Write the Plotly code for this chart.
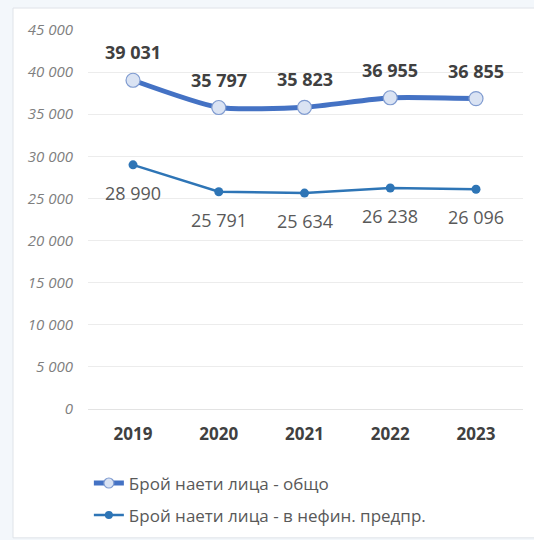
import plotly.graph_objects as go

# Data
years = ["2019", "2020", "2021", "2022", "2023"]
total_employed = [39031, 35797, 35823, 36955, 36855]
nonfin_employed = [28990, 25791, 25634, 26238, 26096]
y_ticks = [0, 5000, 10000, 15000, 20000, 25000, 30000, 35000, 40000, 45000]

name_total = "Брой наети лица - общо"
name_nonfin = "Брой наети лица - в нефин. предпр."

FONT = "Open Sans"

# category positions on a linear axis
xpos = list(range(len(years)))

TOTAL_LINE = dict(color="#4472c4", width=5, shape="spline", smoothing=0.6)
TOTAL_MARKER_FILL = "#dae3f3"
TOTAL_MARKER_EDGE = dict(color="#7f9bd0", width=1.2)
NONFIN_COLOR = "#2e75b6"

fig = go.Figure()

fig.add_trace(go.Scatter(
    x=xpos, y=total_employed, name=name_total, showlegend=False,
    mode="lines+markers", line=TOTAL_LINE,
    marker=dict(size=14, color=TOTAL_MARKER_FILL, line=TOTAL_MARKER_EDGE),
    hoverinfo="skip",
))

fig.add_trace(go.Scatter(
    x=xpos, y=nonfin_employed, name=name_nonfin, showlegend=False,
    mode="lines+markers",
    line=dict(color=NONFIN_COLOR, width=2.5),
    marker=dict(size=9, color=NONFIN_COLOR),
    hoverinfo="skip",
))

# legend entries with smaller symbols
fig.add_trace(go.Scatter(
    x=[None], y=[None], name=name_total, legendgroup="total",
    mode="lines+markers", line=dict(color="#4472c4", width=5),
    marker=dict(size=10, color=TOTAL_MARKER_FILL, line=TOTAL_MARKER_EDGE),
))
fig.add_trace(go.Scatter(
    x=[None], y=[None], name=name_nonfin, legendgroup="nonfin",
    mode="lines+markers", line=dict(color=NONFIN_COLOR, width=2.5),
    marker=dict(size=8, color=NONFIN_COLOR),
))

def fmt(v):
    return f"{v:,}".replace(",", " ")

annotations = []
for x, v in zip(xpos, total_employed):
    annotations.append(dict(
        x=x, y=v, xref="x", yref="y", text=fmt(v), showarrow=False,
        yshift=28, font=dict(family=FONT, size=18, color="#404040", weight="bold"),
    ))
for x, v in zip(xpos, nonfin_employed):
    annotations.append(dict(
        x=x, y=v, xref="x", yref="y", text=fmt(v), showarrow=False,
        yshift=-28, font=dict(family=FONT, size=18, color="#595959"),
    ))

fig.update_layout(
    width=534, height=540,
    margin=dict(l=88, r=11, t=30, b=131, autoexpand=False),
    paper_bgcolor="#f3f7fb",
    plot_bgcolor="#ffffff",
    font=dict(family=FONT, color="#595959"),
    annotations=annotations,
    shapes=[dict(
        type="rect", xref="paper", yref="paper",
        x0=-0.1724, x1=1.2, y0=-0.34, y1=1.058,
        fillcolor="#ffffff", line=dict(color="#dfe3e8", width=1),
        layer="below",
    )],
    showlegend=True,
    legend=dict(
        orientation="v", x=0.002, y=-0.149, xanchor="left", yanchor="top",
        font=dict(family=FONT, size=17, color="#595959"),
        bgcolor="rgba(0,0,0,0)", itemwidth=30,
        traceorder="grouped", tracegroupgap=7,
    ),
)

fig.update_xaxes(
    range=[-0.525, len(years) - 0.452], tickvals=xpos, ticktext=years,
    showgrid=False, showline=False, zeroline=False,
    tickfont=dict(family=FONT, size=17, color="#404040", weight="bold"),
    ticks="", ticklabelstandoff=13,
)

fig.update_yaxes(
    range=[0, 45000], tickvals=y_ticks,
    ticktext=[fmt(v) for v in y_ticks],
    showgrid=True, gridcolor="#ececec", gridwidth=1,
    zeroline=True, zerolinecolor="#e3e3e3", zerolinewidth=1,
    showline=False, ticks="", ticklabelstandoff=14,
    tickfont=dict(family=FONT, size=15, color="#7f7f7f", style="italic"),
)

fig.write_html("out.html")
